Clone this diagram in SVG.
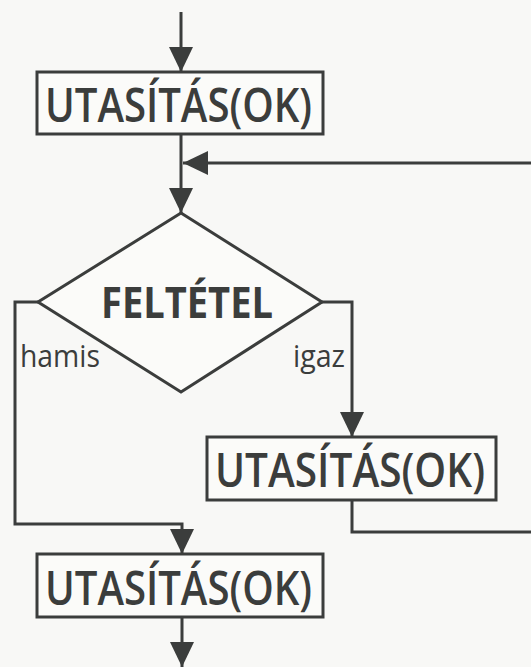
<svg xmlns="http://www.w3.org/2000/svg" width="531" height="667" viewBox="0 0 531 667">
  <defs>
    <marker id="arrow" viewBox="0 0 25 24" refX="25" refY="12" markerWidth="25" markerHeight="24" markerUnits="userSpaceOnUse" orient="auto">
      <path d="M0,0 L25,12 L0,24 Z" fill="#3b3d3c"/>
    </marker>
    <style>
      .shape { fill: #fbfbf9; stroke: #3b3d3c; stroke-width: 3; }
      .wire { fill: none; stroke: #3b3d3c; stroke-width: 3; }
      .box-text { font-family: "Open Sans", "Noto Sans", sans-serif; font-size: 47px; font-weight: 600; fill: #3b3d3c; }
      .cond-text { font-family: "Open Sans", "Noto Sans", sans-serif; font-size: 43px; font-weight: bold; fill: #3b3d3c; }
      .label { font-family: "Open Sans", "Noto Sans", sans-serif; font-size: 31px; fill: #3b3d3c; }
    </style>
  </defs>
  <rect width="531" height="667" fill="#f8f8f6"/>

  <g id="connectors">
    <path class="wire" d="M181,12 V72" marker-end="url(#arrow)"/>
    <path class="wire" d="M181,134 V213" marker-end="url(#arrow)"/>
    <path class="wire" d="M531,163 H183" marker-end="url(#arrow)"/>
    <path class="wire" d="M38,302 H15 V524 H182 V554" marker-end="url(#arrow)"/>
    <path class="wire" d="M322,302 H352 V437" marker-end="url(#arrow)"/>
    <path class="wire" d="M352,500 V532 H531"/>
    <path class="wire" d="M182,617 V667" marker-end="url(#arrow)"/>
  </g>

  <g id="stmt1">
    <rect class="shape" x="37" y="72" width="286" height="62"/>
    <text class="box-text" x="45" y="122" textLength="267" lengthAdjust="spacingAndGlyphs">UTASÍTÁS(OK)</text>
  </g>

  <g id="condition">
    <polygon class="shape" points="181,213 322,302 181,392 38,302"/>
    <text class="cond-text" x="101" y="318" textLength="172" lengthAdjust="spacingAndGlyphs">FELTÉTEL</text>
    <text class="label" x="20" y="367" textLength="80" lengthAdjust="spacingAndGlyphs">hamis</text>
    <text class="label" x="293" y="367" textLength="52" lengthAdjust="spacingAndGlyphs">igaz</text>
  </g>

  <g id="stmt2">
    <rect class="shape" x="207" y="437" width="289" height="63"/>
    <text class="box-text" x="215" y="487" textLength="270" lengthAdjust="spacingAndGlyphs">UTASÍTÁS(OK)</text>
  </g>

  <g id="stmt3">
    <rect class="shape" x="37" y="554" width="286" height="63"/>
    <text class="box-text" x="45" y="605" textLength="267" lengthAdjust="spacingAndGlyphs">UTASÍTÁS(OK)</text>
  </g>
</svg>
